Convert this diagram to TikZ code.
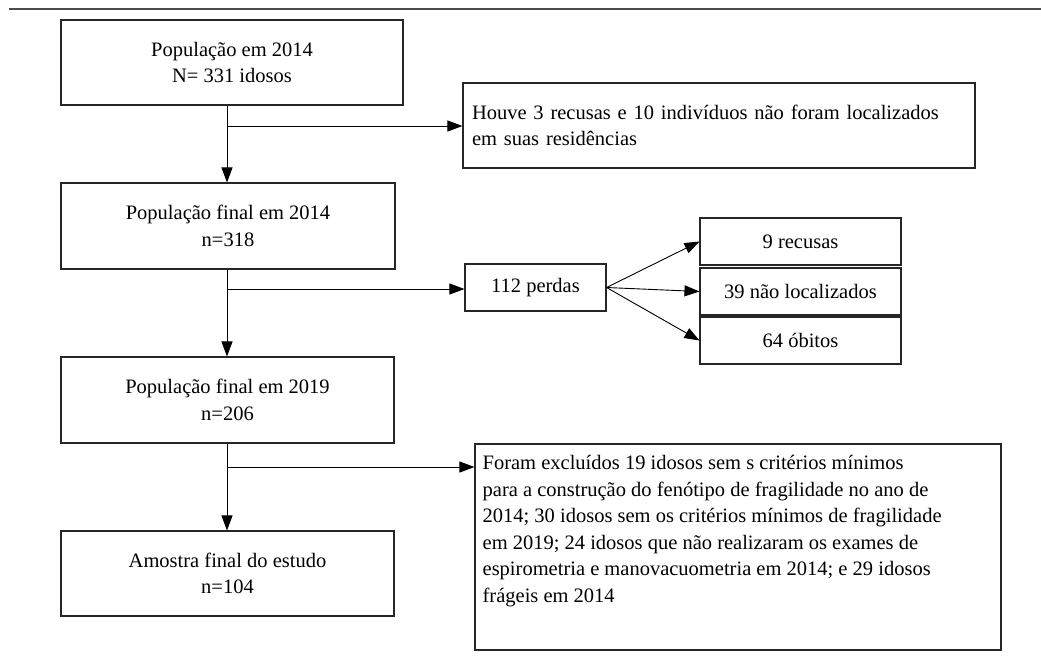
\documentclass[tikz,border=0pt]{standalone}
\usepackage{fontspec}
\setmainfont{Liberation Serif}
\usetikzlibrary{arrows.meta}
\begin{document}
\begin{tikzpicture}[x=1pt,y=-1pt,
  box/.style={draw=black!85, line width=1.1pt, minimum width=#1, inner sep=0pt, align=center, font=\fontsize{20.5}{26.5}\selectfont},
  arr/.style={line width=0.9pt, -{Triangle[length=15pt,width=11pt]}},
  ln/.style={line width=0.9pt}]
\useasboundingbox (0,0) rectangle (1041,665);
\draw[line width=1.5pt, gray!60!black] (9,9) -- (1041,9);
% main column
\node[box=342pt, minimum height=85pt] (b1) at (232,62.5) {População em 2014\\N= 331 idosos};
\node[box=334pt, minimum height=86pt] (b3) at (228,226) {População final em 2014\\n=318};
\node[box=333pt, minimum height=86pt] (b4) at (227.5,400) {População final em 2019\\n=206};
\node[box=333pt, minimum height=85pt] (b5) at (227.5,573.5) {Amostra final do estudo\\n=104};
% side boxes
\node[box=512pt, minimum height=85pt, align=left, text width=494pt, inner xsep=9pt] (b2) at (719,125.5) {Houve 3 recusas e 10 indivíduos não foram localizados\\em suas residências};
\node[box=141pt, minimum height=47pt] (p) at (535.5,287.5) {112 perdas};
\node[box=201pt, minimum height=47pt] (r9) at (800.5,241.5) {9 recusas};
\node[box=201pt, minimum height=47pt] (r39) at (800.5,291.5) {39 não localizados};
\node[box=201pt, minimum height=47pt] (r64) at (800.5,340.5) {64 óbitos};
\node[draw=black!85, line width=1.1pt, minimum width=526pt, minimum height=206pt, inner sep=0pt] (b6) at (738,547) {};
\node[anchor=north west, align=left, inner sep=0pt, font=\fontsize{20.5}{26.5}\selectfont] (t6) at ([xshift=8pt,yshift=-12pt]b6.north west) {Foram excluídos 19 idosos sem s critérios mínimos\\para a construção do fenótipo de fragilidade no ano de\\2014; 30 idosos sem os critérios mínimos de fragilidade\\em 2019; 24 idosos que não realizaram os exames de\\espirometria e manovacuometria em 2014; e 29 idosos\\frágeis em 2014};
% junctions
\coordinate (j1) at (227,126);
\coordinate (j2) at (227,289);
\coordinate (j3) at (227,467);
\draw[arr] (j1 |- b1.south) -- (j1 |- b3.north);
\draw[arr] (j1) -- (j1 -| b2.west);
\draw[arr] (j2 |- b3.south) -- (j2 |- b4.north);
\draw[arr] (j2) -- (j2 -| p.west);
\draw[arr] (j3 |- b4.south) -- (j3 |- b5.north);
\draw[arr] (j3) -- (j3 -| b6.west);
\draw[arr] (p.east) -- (r9.west);
\draw[arr] (p.east) -- (r39.west);
\draw[arr] (p.east) -- (r64.west);
\end{tikzpicture}
\end{document}
